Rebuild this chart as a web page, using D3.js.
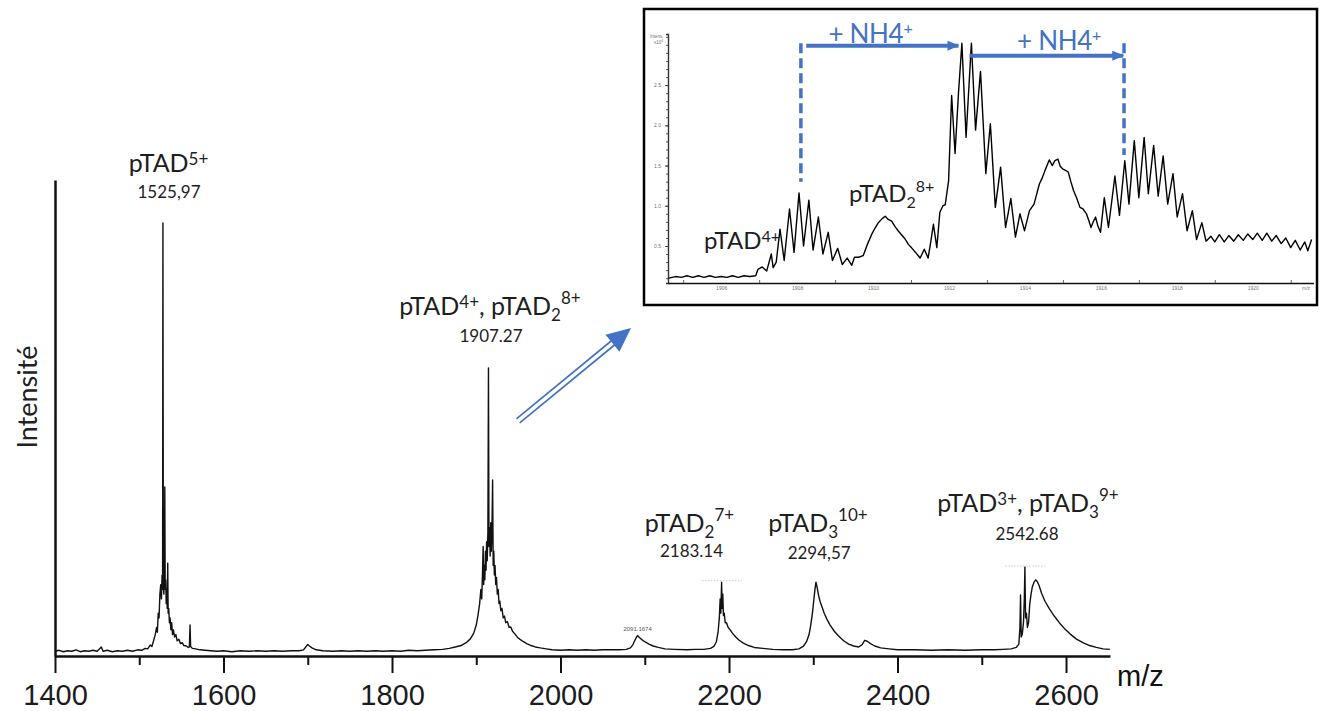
<!DOCTYPE html>
<html><head><meta charset="utf-8">
<script src="https://cdn.jsdelivr.net/npm/d3@7"></script>
<style>
html,body{margin:0;padding:0;background:#fff;}
svg{display:block;}
</style></head>
<body>
<svg id="chart" width="1322" height="711"></svg>
<script>
// ---------------- DATA ----------------
// Main spectrum: [m/z, relative intensity]
const mainSpectrum = [
[1400,1.0],[1405,1.2],[1410,0.9],[1415,1.1],[1420,1.0],[1425,1.3],[1430,0.9],[1435,1.1],[1440,1.0],[1445,1.2],[1450,1.0],[1455,1.9],[1457,1.0],[1462,1.2],[1468,0.9],[1474,1.1],[1480,1.0],[1486,1.2],[1492,1.0],[1498,1.3],[1503,1.2],[1507,1.6],[1510,1.5],[1513,2.3],[1515,2.0],[1517,3.2],[1519,4.5],[1520.5,6],[1521.5,5],[1522.5,9],[1523.5,8],[1524.5,13],[1525.5,15],[1526.3,12],[1527.1,17],[1527.7,14],[1528.1,91],[1528.6,15],[1529.2,13],[1529.8,17],[1530.3,35.5],[1530.8,14],[1531.4,16],[1532,11],[1532.6,14],[1533.2,10],[1533.8,19.5],[1534.3,9],[1535,10],[1535.8,7],[1536.6,8],[1537.5,5.5],[1538.5,7],[1539.5,4.5],[1540.5,5.5],[1542,4],[1543.5,4.5],[1545,3.2],[1547,3.5],[1549,2.6],[1551,2.8],[1553,2.2],[1556,2.1],[1558,1.8],[1559.5,1.9],[1560.3,6.5],[1561,2],[1563,1.6],[1567,1.5],[1572,1.3],[1578,1.2],[1585,1.1],[1592,1.0],[1600,1.1],[1610,0.9],[1620,1.1],[1630,1.0],[1640,1.1],[1650,1.0],[1660,1.1],[1670,1.0],[1680,1.1],[1690,1.1],[1695,1.3],[1698,2.0],[1700,2.4],[1702,2.1],[1705,1.7],[1710,1.3],[1718,1.1],[1730,1.0],[1740,1.1],[1750,1.0],[1760,1.1],[1770,1.0],[1780,1.1],[1790,1.0],[1800,1.1],[1810,1.0],[1820,1.2],[1830,1.1],[1840,1.2],[1850,1.3],[1860,1.4],[1868,1.6],[1875,1.9],[1882,2.2],[1888,2.8],[1893,3.6],[1897,4.8],[1900,6.5],[1902,8.5],[1904,11],[1905.5,14],[1906.5,12],[1907.5,18],[1908.2,23],[1908.8,15],[1909.5,19],[1910.2,16],[1910.9,22],[1911.6,18],[1912.3,24],[1913,20],[1913.8,26],[1914.5,60.5],[1915.1,23],[1915.8,27],[1916.5,21],[1917.2,28],[1917.9,22],[1918.6,26],[1919.4,37],[1920.1,19],[1920.8,22],[1921.5,17],[1922.3,19],[1923.1,15],[1924,16.5],[1925,13],[1926,14],[1927,11],[1928,11.5],[1929.2,9.5],[1930.5,10],[1932,8],[1933.5,8.4],[1935,7],[1937,7.2],[1939,6],[1941,6.1],[1943,5.2],[1946,4.6],[1949,3.9],[1952,3.5],[1956,3],[1960,2.6],[1965,2.2],[1970,1.9],[1976,1.7],[1983,1.5],[1990,1.3],[2000,1.2],[2010,1.3],[2020,1.2],[2030,1.3],[2040,1.2],[2050,1.3],[2060,1.3],[2070,1.3],[2078,1.4],[2083,1.7],[2086,2.4],[2088,3.2],[2090,3.9],[2091.5,4.3],[2093,4.0],[2096,3.5],[2100,3.0],[2105,2.5],[2110,2.1],[2116,1.8],[2124,1.5],[2135,1.4],[2150,1.3],[2160,1.4],[2170,1.4],[2178,1.6],[2182,2.0],[2185,3],[2187,5],[2188.5,8],[2189.5,12],[2190.3,9],[2191.2,15.5],[2191.9,10],[2192.6,13],[2193.4,8.5],[2194.3,9],[2195.5,7],[2197,7],[2199,6],[2201,5.6],[2204,4.8],[2208,4],[2212,3.3],[2217,2.7],[2223,2.2],[2230,1.8],[2240,1.6],[2252,1.4],[2265,1.3],[2275,1.3],[2283,1.5],[2288,2],[2292,3],[2295,4.5],[2297,6.5],[2299,9],[2300.5,11.5],[2302,14],[2303.2,15.5],[2304.5,14.5],[2306,13],[2308,11.5],[2310,10.5],[2313,9],[2316,7.8],[2320,6.5],[2325,5.2],[2330,4.2],[2336,3.2],[2342,2.5],[2348,2.1],[2354,1.9],[2358,2.4],[2361,3.3],[2364,3.1],[2368,2.6],[2373,2.1],[2380,1.7],[2390,1.5],[2400,1.3],[2420,1.3],[2440,1.2],[2460,1.3],[2480,1.2],[2500,1.3],[2515,1.3],[2525,1.4],[2535,1.5],[2541,1.8],[2544,2.5],[2545.3,6],[2546,12.8],[2546.8,4],[2548,4.5],[2549.5,7],[2550.5,12],[2551.2,18.7],[2552,8],[2553,9],[2554.2,6],[2555.5,7],[2557,11],[2558.5,13],[2560,14.5],[2562,15.5],[2564,16.0],[2566,15.6],[2568,14.8],[2571,13.2],[2575,11.5],[2580,10],[2586,8.4],[2592,7.0],[2598,5.8],[2605,4.6],[2612,3.6],[2620,2.8],[2628,2.2],[2636,1.8],[2644,1.5],[2652,1.4]
];

// Inset spectrum (zoom around m/z 1905-1922): [m/z, intensity x10^4]
const insetSpectrum = [
[1904.62,0.10],[1904.8,0.12],[1904.95,0.11],[1905.1,0.13],[1905.25,0.11],[1905.4,0.13],[1905.55,0.11],[1905.7,0.13],[1905.85,0.11],[1906.0,0.12],[1906.15,0.11],[1906.3,0.13],[1906.45,0.11],[1906.6,0.13],[1906.75,0.12],[1906.91,0.13],
[1906.97,0.21],[1907.08,0.24],[1907.2,0.19],[1907.32,0.40],[1907.37,0.23],[1907.45,0.30],[1907.55,0.71],[1907.66,0.32],[1907.8,0.96],[1907.92,0.42],[1908.05,1.16],[1908.17,0.50],[1908.31,1.07],[1908.42,0.45],[1908.56,0.86],[1908.68,0.40],[1908.82,0.67],[1908.93,0.32],[1909.07,0.47],[1909.19,0.27],[1909.32,0.35],[1909.44,0.26],[1909.51,0.36],[1909.62,0.36],[1909.74,0.38],[1909.85,0.52],[1909.97,0.65],[1910.05,0.72],[1910.14,0.79],[1910.24,0.84],[1910.32,0.87],[1910.4,0.83],[1910.49,0.81],[1910.58,0.74],[1910.66,0.69],[1910.75,0.64],[1910.84,0.59],[1910.93,0.52],[1911.01,0.48],[1911.12,0.42],[1911.24,0.35],[1911.35,0.46],[1911.45,0.35],[1911.52,0.55],[1911.59,0.77],[1911.68,0.48],[1911.76,0.92],[1911.84,1.00],[1911.9,1.01],[1911.99,1.31],[1912.07,2.37],[1912.16,1.65],[1912.25,2.40],[1912.34,3.02],[1912.45,1.85],[1912.59,3.02],[1912.7,1.94],[1912.83,2.67],[1912.97,1.40],[1913.09,2.02],[1913.22,0.98],[1913.36,1.48],[1913.49,0.73],[1913.63,1.09],[1913.75,0.61],[1913.87,0.90],[1913.99,0.69],[1914.12,0.94],[1914.24,1.02],[1914.38,1.27],[1914.46,1.35],[1914.53,1.44],[1914.64,1.57],[1914.72,1.50],[1914.79,1.56],[1914.87,1.58],[1914.93,1.49],[1914.99,1.46],[1915.07,1.44],[1915.14,1.42],[1915.21,1.30],[1915.28,1.19],[1915.36,1.10],[1915.45,0.98],[1915.53,0.96],[1915.62,0.90],[1915.68,0.82],[1915.74,0.73],[1915.8,0.80],[1915.86,0.86],[1915.92,0.75],[1915.99,0.67],[1916.09,1.10],[1916.2,0.73],[1916.37,1.37],[1916.49,0.88],[1916.63,1.56],[1916.74,1.02],[1916.88,1.81],[1917.0,1.10],[1917.14,1.85],[1917.25,1.15],[1917.39,1.75],[1917.51,1.12],[1917.64,1.62],[1917.76,1.02],[1917.9,1.40],[1918.01,0.86],[1918.15,1.15],[1918.27,0.69],[1918.41,0.94],[1918.52,0.58],[1918.66,0.79],[1918.77,0.56],
[1918.9,0.62],[1919.0,0.55],[1919.12,0.64],[1919.25,0.55],[1919.37,0.63],[1919.5,0.56],[1919.62,0.64],[1919.75,0.57],[1919.87,0.65],[1920.0,0.58],[1920.12,0.66],[1920.25,0.57],[1920.37,0.66],[1920.5,0.56],[1920.62,0.63],[1920.75,0.53],[1920.87,0.60],[1921.0,0.48],[1921.12,0.57],[1921.25,0.45],[1921.37,0.55],[1921.45,0.44],[1921.55,0.58]
];

const mainMajorTicks = [1400,1600,1800,2000,2200,2400,2600];
const mainMinorTicks = [1500,1700,1900,2100,2300,2500];
const insetXLabels = [1906,1908,1910,1912,1914,1916,1918,1920];
const insetXMarks = [1905,1907,1909,1911,1913,1915,1917,1919,1921];
const insetYLabels = [0.5,1.0,1.5,2.0,2.5];

// Peak annotations: "sup" = superscript at cap level, "sup2" = superscript after a subscript
const peakFormulas = [
  [["pTAD",""],["5+","sup"]],
  [["pTAD",""],["4+","sup"],[", pTAD",""],["2","sub"],["8+","sup2"]],
  [["pTAD",""],["2","sub"],["7+","sup2"]],
  [["pTAD",""],["3","sub"],["10+","sup2"]],
  [["pTAD",""],["3+","sup"],[", pTAD",""],["3","sub"],["9+","sup2"]]
];
const peakNumbers = ["1525,97","1907.27","2183.14","2294,57","2542.68"];
const formulaMz  = [1534.7,1916.3,2153.0,2305.6,2554.9];
const formulaVal = [101.7,71.6,26.0,26.0,30.3];
const numberMz   = [1535.3,1917.5,2155.5,2307.0,2553.7];
const numberVal  = [96.2,66.0,20.8,20.4,24.4];

// ---------------- DRAW ----------------
const svg = d3.select("#chart");
svg.append("rect").attr("width",1322).attr("height",711).attr("fill","#fff");

const BLUE = "#4472C4";
const x = d3.scaleLinear().domain([1400, 2652.2]).range([55, 1110]);
const y = d3.scaleLinear().domain([0, 100]).range([656, 180]);

// spectrum
const line = d3.line().x(d => x(d[0])).y(d => y(d[1]));
svg.append("path").datum(mainSpectrum)
  .attr("d", line).attr("fill","none").attr("stroke","#111").attr("stroke-width",1.4)
  .attr("stroke-linejoin","round");

// y axis (line only)
const yAx = svg.append("g").attr("transform","translate(55,0)")
  .call(d3.axisLeft(y).tickValues([]).tickSizeOuter(0));
yAx.select(".domain").attr("stroke","#111").attr("stroke-width",2.5);

// x axis minor ticks
const xMinor = svg.append("g").attr("transform","translate(0,656)")
  .call(d3.axisBottom(x).tickValues(mainMinorTicks).tickSize(9).tickSizeOuter(0).tickFormat(""));
xMinor.selectAll(".tick line").attr("stroke","#111").attr("stroke-width",2);
xMinor.select(".domain").remove();
// x axis major
const xMajor = svg.append("g").attr("transform","translate(0,656)")
  .call(d3.axisBottom(x).tickValues(mainMajorTicks).tickSize(17).tickSizeOuter(0).tickPadding(11).tickFormat(d3.format("d")));
xMajor.select(".domain").attr("stroke","#111").attr("stroke-width",2.5);
xMajor.selectAll(".tick line").attr("stroke","#111").attr("stroke-width",2);
xMajor.selectAll(".tick text").attr("fill","#1b1b22")
  .style("font-family","'Liberation Sans', Arial, sans-serif").style("font-size","29px");

svg.append("text").attr("x",1117).attr("y",686).text("m/z")
  .attr("fill","#111").style("font-family","'Liberation Sans', Arial, sans-serif").style("font-size","29px");

svg.append("text").attr("transform","translate(37,397) rotate(-90)")
  .attr("text-anchor","middle").text("Intensité").attr("fill","#222")
  .style("font-family","Lato, 'Open Sans', sans-serif").style("font-size","27px");

// rich text helper
function richText(g, px, py, parts, size, small, raise, raise2, drop, fill, family) {
  const t = g.append("text").attr("x", px).attr("y", py).attr("text-anchor","middle")
    .attr("fill", fill).style("font-family", family).style("font-size", size + "px");
  let cur = 0;
  parts.forEach(([s, type]) => {
    const target = type === "sup" ? -raise : type === "sup2" ? -raise2 : type === "sub" ? drop : 0;
    const ts = t.append("tspan").text(s).attr("dy", target - cur);
    if (type) ts.style("font-size", small + "px");
    cur = target;
  });
  return t;
}

const FAM = "Lato, 'Open Sans', sans-serif";
peakFormulas.forEach((parts, i) => {
  richText(svg, x(formulaMz[i]), y(formulaVal[i]), parts, 25, 17, 7, 11, 6, "#1e1e1e", FAM);
  svg.append("text").attr("x", x(numberMz[i])).attr("y", y(numberVal[i]))
    .attr("text-anchor","middle").text(peakNumbers[i]).attr("fill","#222")
    .style("font-family", FAM).style("font-size","17px");
});

// small software label
svg.append("text").attr("x", x(2091.5)).attr("y", y(5.2)).attr("text-anchor","middle")
  .text("2091.1674").attr("fill","#555").style("font-family","'Liberation Sans', Arial, sans-serif").style("font-size","6px");
// faint label remnants above peaks
[[2191.5,15.8],[2551.5,18.9]].forEach(([m,v]) => {
  svg.append("line").attr("x1", x(m)-20).attr("x2", x(m)+20).attr("y1", y(v)).attr("y2", y(v))
    .attr("stroke","#c8c8c8").attr("stroke-width",1).attr("stroke-dasharray","1.5,1.5");
});

// double-line blue arrow (main -> inset)
const arrowStart = [1949.6, 49.4], arrowTip = [2083.7, 68.9];
{
  const sx = x(arrowStart[0]), sy = y(arrowStart[1]);
  const tx = x(arrowTip[0]), ty = y(arrowTip[1]);
  const dx = tx - sx, dy = ty - sy, L = Math.hypot(dx, dy);
  const ux = dx / L, uy = dy / L, nx = -uy, ny = ux;
  const headL = 24, headW = 11;
  const bx = tx - ux * headL, by = ty - uy * headL;
  [-2.6, 2.6].forEach(o => {
    svg.append("line").attr("x1", sx + nx*o).attr("y1", sy + ny*o)
      .attr("x2", bx + nx*o + ux*2).attr("y2", by + ny*o + uy*2)
      .attr("stroke", BLUE).attr("stroke-width", 1.7);
  });
  svg.append("path").attr("d", `M${tx},${ty}L${bx + nx*headW},${by + ny*headW}L${bx - nx*headW},${by - ny*headW}Z`)
    .attr("fill", BLUE);
}

// ---------------- INSET ----------------
const inset = svg.append("g");
inset.append("rect").attr("x",644).attr("y",9).attr("width",673).attr("height",296)
  .attr("fill","#fff").attr("stroke","#000").attr("stroke-width",2.5);

const xi = d3.scaleLinear().domain([1904.6, 1921.6]).range([668, 1313.5]);
const yi = d3.scaleLinear().domain([0.04, 3.135]).range([283, 34]);

const TINY = "'Liberation Sans', Arial, sans-serif";
// y axis
const yiMinor = inset.append("g").attr("transform","translate(668,0)")
  .call(d3.axisLeft(yi).tickValues(d3.range(0.1, 3.11, 0.1)).tickSize(2).tickFormat(""));
yiMinor.selectAll(".tick line").attr("stroke","#555");
yiMinor.select(".domain").attr("stroke","#333").attr("stroke-width",1.4);
const yiMajor = inset.append("g").attr("transform","translate(668,0)")
  .call(d3.axisLeft(yi).tickValues(insetYLabels).tickSize(3).tickPadding(4).tickFormat(d3.format(".1f")));
yiMajor.select(".domain").remove();
yiMajor.selectAll(".tick line").attr("stroke","#444");
yiMajor.selectAll(".tick text").attr("fill","#7a6f88").style("font-family",TINY).style("font-size","5px");

// x axis
const xiMarks = inset.append("g").attr("transform","translate(0,283)")
  .call(d3.axisBottom(xi).tickValues(insetXMarks).tickSize(-3).tickSizeOuter(0).tickFormat(""));
xiMarks.select(".domain").attr("stroke","#111").attr("stroke-width",1.5);
xiMarks.selectAll(".tick line").attr("stroke","#666");
const xiLab = inset.append("g").attr("transform","translate(0,283)")
  .call(d3.axisBottom(xi).tickValues(insetXLabels).tickSize(0).tickPadding(3).tickFormat(d3.format("d")));
xiLab.select(".domain").remove();
xiLab.selectAll(".tick text").attr("fill","#7a6f88").style("font-family",TINY).style("font-size","5px");
inset.append("text").attr("x",1306).attr("y",290).attr("text-anchor","middle").text("m/z")
  .attr("fill","#7a6f88").style("font-family",TINY).style("font-size","5px");
inset.append("text").attr("x",650).attr("y",38).text("Intens.")
  .attr("fill","#7a6f88").style("font-family",TINY).style("font-size","4.5px");
const xl = inset.append("text").attr("x",654).attr("y",44)
  .attr("fill","#7a6f88").style("font-family",TINY).style("font-size","4.5px");
xl.append("tspan").text("x10");
xl.append("tspan").text("4").attr("dy",-2).style("font-size","3.5px");

// inset spectrum
const lineI = d3.line().x(d => xi(d[0])).y(d => yi(d[1]));
inset.append("path").datum(insetSpectrum).attr("d", lineI)
  .attr("fill","none").attr("stroke","#000").attr("stroke-width",1.4).attr("stroke-linejoin","round");

// inset labels
richText(inset, xi(1906.55), yi(0.46), [["pTAD",""],["4+","sup"]], 24, 16, 7, 10, 5, "#1e1e1e", FAM);
richText(inset, xi(1910.49), yi(1.05), [["pTAD",""],["2","sub"],["8+","sup2"]], 24, 16, 7, 10, 6, "#1e1e1e", FAM);

// NH4+ annotations
const dashX = [1908.1, 1916.61];
const dashTop = [3.02, 3.02];
const dashBottom = [1.30, 1.63];
dashX.forEach((m, i) => {
  inset.append("line").attr("x1", xi(m)).attr("x2", xi(m)).attr("y1", yi(dashTop[i])).attr("y2", yi(dashBottom[i]))
    .attr("stroke", BLUE).attr("stroke-width", 3.5).attr("stroke-dasharray","10,5");
});
const defs = svg.append("defs");
defs.append("marker").attr("id","ah").attr("viewBox","0 0 12 10").attr("refX",11).attr("refY",5)
  .attr("markerWidth",12).attr("markerHeight",10).attr("markerUnits","userSpaceOnUse").attr("orient","auto")
  .append("path").attr("d","M0,0L12,5L0,10Z").attr("fill",BLUE);
const nhFrom = [1908.24, 1912.54], nhTo = [1912.25, 1916.59], nhVal = [2.99, 2.865];
nhFrom.forEach((m, i) => {
  inset.append("line").attr("x1", xi(m)).attr("x2", xi(nhTo[i])).attr("y1", yi(nhVal[i])).attr("y2", yi(nhVal[i]))
    .attr("stroke", BLUE).attr("stroke-width", 4).attr("marker-end","url(#ah)");
});
const nhTextMz = [1909.93, 1914.9], nhTextVal = [3.025, 2.93];
nhTextMz.forEach((m, i) => {
  richText(inset, xi(m), yi(nhTextVal[i]), [["+ NH4",""],["+","sup"]], 26, 16, 9, 9, 0, BLUE, FAM)
    .style("letter-spacing","-0.3px");
});
</script>
</body></html>
